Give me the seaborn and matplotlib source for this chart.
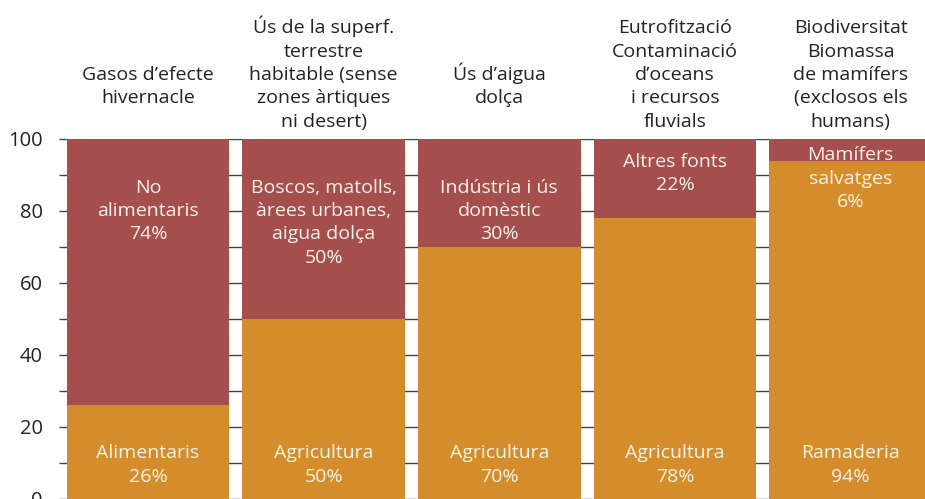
import seaborn as sns
import matplotlib.pyplot as plt
import pandas as pd
from matplotlib.ticker import MultipleLocator

# Data
headers = [
    "Gasos d’efecte\nhivernacle\n",
    "Ús de la superf.\nterrestre\nhabitable (sense\nzones àrtiques\nni desert)",
    "Ús d’aigua\ndolça\n",
    "Eutrofització\nContaminació\nd’oceans\ni recursos\nfluvials",
    "Biodiversitat\nBiomassa\nde mamífers\n(exclosos els\nhumans)",
]
food_share = [26, 50, 70, 78, 94]
food_labels = ["Alimentaris", "Agricultura", "Agricultura", "Agricultura", "Ramaderia"]
other_labels = [
    "No\nalimentaris",
    "Boscos, matolls,\nàrees urbanes,\naigua dolça",
    "Indústria i ús\ndomèstic",
    "Altres fonts",
    "Mamífers\nsalvatges",
]
other_share = [74, 50, 30, 22, 6]

df = pd.DataFrame({
    "cat": [f"c{i}" for i in range(len(headers))],
    "total": [f + o for f, o in zip(food_share, other_share)],
    "food": food_share,
})

orange = "#D58D2B"
red = "#A44E4E"
txt_light = "#FBF3E8"

sns.set_style("white")
plt.rcParams["font.family"] = ["Open Sans", "DejaVu Sans"]

fig = plt.figure(figsize=(9.25, 4.99), dpi=100)
ax = fig.add_axes([65 / 925, 0, 860 / 925, 1 - 139 / 499])

sns.barplot(data=df, x="cat", y="total", color=red, width=0.926,
            saturation=1, linewidth=0, ax=ax)
sns.barplot(data=df, x="cat", y="food", color=orange, width=0.926,
            saturation=1, linewidth=0, ax=ax)

ax.set_xlim(-0.472, 4.423)
ax.set_ylim(0, 100)
ax.yaxis.set_major_locator(MultipleLocator(20))
ax.yaxis.set_minor_locator(MultipleLocator(10))
ax.grid(True, axis="y", which="both", color="#444444", linewidth=1)
ax.set_axisbelow(True)
for s in ax.spines.values():
    s.set_visible(False)
ax.tick_params(axis="y", which="both", left=True, length=4, width=1,
               color="#444444", pad=12, labelsize=14.5, labelcolor="#222222")
ax.tick_params(axis="x", bottom=False, labelbottom=False)
ax.set_xlabel("")
ax.set_ylabel("")

# top label positions (y value for top of text block)
top_y = [89.0, 89.0, 89.0, 96.2, 98.0]
for i in range(len(headers)):
    ax.text(i, 102.3, headers[i], ha="center", va="bottom", fontsize=14,
            color="#222222", linespacing=1.38, clip_on=False)
    ax.text(i, 9.4, f"{food_labels[i]}\n{food_share[i]}%", ha="center",
            va="center", fontsize=14, color=txt_light, linespacing=1.38)
    ax.text(i, top_y[i], f"{other_labels[i]}\n{other_share[i]}%", ha="center",
            va="top", fontsize=14, color=txt_light, linespacing=1.38)

plt.savefig("out.png", dpi=100)
